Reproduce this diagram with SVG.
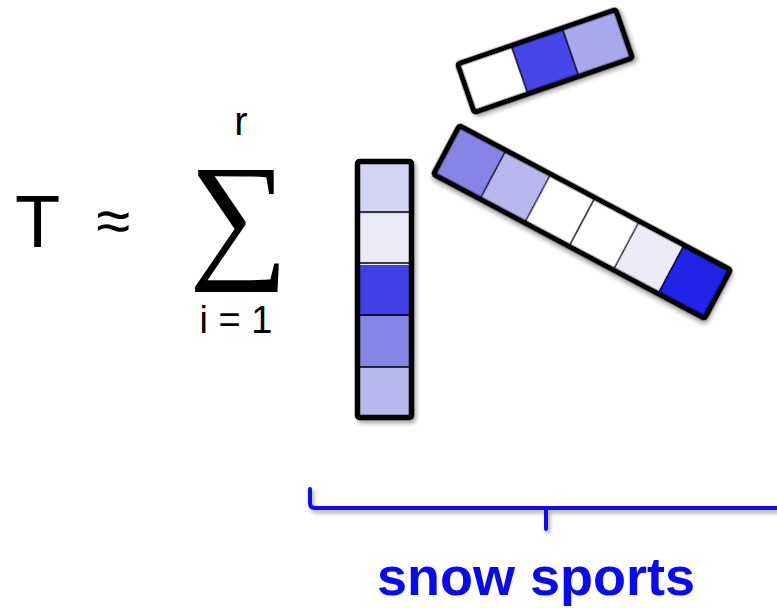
<svg xmlns="http://www.w3.org/2000/svg" width="777" height="608" viewBox="0 0 777 608">
<style>
.eq{font-family:"Liberation Sans",Arial,sans-serif;fill:#000}
.sig{font-family:"Liberation Serif","DejaVu Serif",serif;fill:#000}
.frame{fill:none;stroke:#000;stroke-width:5.5;stroke-linejoin:round}
.div{stroke:#000;stroke-width:1.5}
.brace{fill:none;stroke:#0a0af0;stroke-width:4;stroke-linecap:round;stroke-linejoin:round}
.label{font-family:"Liberation Sans",Arial,sans-serif;font-weight:bold;fill:#0a0af0}
</style>
<defs>
<filter id="sh" x="-20%" y="-20%" width="140%" height="140%">
<feDropShadow dx="2" dy="3" stdDeviation="2" flood-color="#000" flood-opacity="0.35"/>
</filter>
</defs>
<rect width="777" height="608" fill="#fff"/>
<g id="formula">
<text class="eq" x="15" y="247" font-size="74">T</text>
<text class="eq" x="96" y="242" font-size="62">≈</text>
<text class="sig" x="189" y="262" font-size="140">∑</text>
<text class="eq" x="241" y="135" font-size="40" text-anchor="middle">r</text>
<text class="eq" x="236" y="333" font-size="38" text-anchor="middle">i = 1</text>
</g>
<g id="vector-a" filter="url(#sh)">
<rect x="359" y="163" width="51" height="51" fill="#d3d3f3"/>
<rect x="359" y="214" width="51" height="51" fill="#ebebf7"/>
<rect x="359" y="265" width="51" height="51" fill="#4040e6"/>
<rect x="359" y="316" width="51" height="51" fill="#8585e6"/>
<rect x="359" y="367" width="51" height="51" fill="#b8b8ee"/>
<line class="div" x1="359" y1="212" x2="410" y2="212"/>
<line class="div" x1="359" y1="263" x2="410" y2="263"/>
<line class="div" x1="359" y1="315" x2="410" y2="315"/>
<line class="div" x1="359" y1="367" x2="410" y2="367"/>
<rect class="frame" x="357.5" y="161.5" width="54" height="256" rx="2"/>
</g>
<g id="vector-b" filter="url(#sh)" transform="translate(582,222) rotate(28)">
<rect x="-151" y="-25" width="50.3" height="50" fill="#8585e6"/>
<rect x="-100.7" y="-25" width="50.3" height="50" fill="#b8b8ee"/>
<rect x="-50.3" y="-25" width="50.3" height="50" fill="#fff"/>
<rect x="0" y="-25" width="50.3" height="50" fill="#fff"/>
<rect x="50.3" y="-25" width="50.3" height="50" fill="#ececf8"/>
<rect x="100.7" y="-25" width="50.3" height="50" fill="#2020e8"/>
<line class="div" x1="-100.7" y1="-25" x2="-100.7" y2="25"/>
<line class="div" x1="-50.3" y1="-25" x2="-50.3" y2="25"/>
<line class="div" x1="0" y1="-25" x2="0" y2="25"/>
<line class="div" x1="50.3" y1="-25" x2="50.3" y2="25"/>
<line class="div" x1="100.7" y1="-25" x2="100.7" y2="25"/>
<rect class="frame" x="-153.5" y="-27.5" width="307" height="55" rx="2"/>
</g>
<g id="vector-c" filter="url(#sh)" transform="translate(545,61) rotate(-19)">
<rect x="-81" y="-23" width="54" height="46" fill="#fff"/>
<rect x="-27" y="-23" width="54" height="46" fill="#4444e8"/>
<rect x="27" y="-23" width="54" height="46" fill="#a8a8ec"/>
<line class="div" x1="-27" y1="-23" x2="-27" y2="23"/>
<line class="div" x1="27" y1="-23" x2="27" y2="23"/>
<rect class="frame" x="-83.5" y="-25.5" width="167" height="51" rx="2"/>
</g>
<g id="brace" filter="url(#sh)">
<path class="brace" d="M310,489 V503 Q310,508 315,508 H780 M546,508 V529"/>
</g>
<g id="label">
<text class="label" x="536" y="595" font-size="54" text-anchor="middle">snow sports</text>
</g>
</svg>
